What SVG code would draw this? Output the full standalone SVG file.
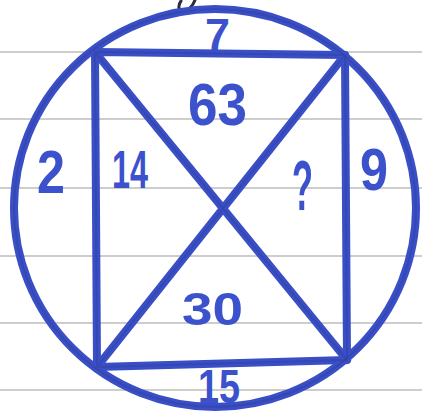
<svg xmlns="http://www.w3.org/2000/svg" width="422" height="414" viewBox="0 0 422 414">
<style>
.rule{stroke:#9c9c9c;stroke-width:1.2}
.pen{fill:none;stroke:#3a4fc6;stroke-linecap:round;stroke-linejoin:round}
.core{fill:none;stroke:#2f3f9e;stroke-linecap:round;stroke-linejoin:round;opacity:0.45}
.num{font-family:"Liberation Sans",Arial,sans-serif;font-weight:bold;fill:#3b52cc}
</style>
<rect width="422" height="414" fill="#ffffff"/>
<g id="paper">
<line class="rule" x1="0" y1="52" x2="422" y2="52"/>
<line class="rule" x1="0" y1="119" x2="422" y2="119"/>
<line class="rule" x1="0" y1="188" x2="422" y2="188"/>
<line class="rule" x1="0" y1="256" x2="422" y2="256"/>
<line class="rule" x1="0" y1="323" x2="422" y2="323"/>
<line class="rule" x1="0" y1="390" x2="422" y2="390"/>
<path d="M195,0 C193,6 188,11 182,11 C178,10 178,5 181,1" fill="none" stroke="#2b2b45" stroke-width="3" stroke-linecap="round"/>
</g>
<g id="connectors">
<ellipse class="pen" cx="215" cy="208" rx="201" ry="199" stroke-width="8"/>
<path class="pen" d="M95,52 L345,55 L347,360 L97,367 Z" stroke-width="8"/>
<path class="pen" d="M95,52 L347,360 M345,55 L97,367" stroke-width="8"/>
<ellipse class="core" cx="215" cy="208" rx="201" ry="199" stroke-width="2"/>
<path class="core" d="M95,52 L345,55 L347,360 L97,367 Z M95,52 L347,360 M345,55 L97,367" stroke-width="2"/>
</g>
<g id="label-7"><text class="num" x="205" y="50" font-size="44" textLength="25" lengthAdjust="spacingAndGlyphs">7</text></g>
<g id="label-63"><text class="num" x="188" y="125" font-size="60" textLength="59" lengthAdjust="spacingAndGlyphs">63</text></g>
<g id="label-2"><text class="num" x="37" y="193" font-size="62" textLength="28" lengthAdjust="spacingAndGlyphs">2</text></g>
<g id="label-14"><text class="num" x="112" y="188" font-size="54" textLength="36" lengthAdjust="spacingAndGlyphs">14</text></g>
<g id="label-q"><text class="num" x="292" y="210" font-size="70" textLength="21" lengthAdjust="spacingAndGlyphs">?</text></g>
<g id="label-9"><text class="num" x="360" y="190" font-size="60" textLength="28" lengthAdjust="spacingAndGlyphs">9</text></g>
<g id="label-30"><text class="num" x="182" y="325" font-size="46" textLength="61" lengthAdjust="spacingAndGlyphs">30</text></g>
<g id="label-15"><text class="num" x="198" y="403" font-size="48" textLength="42" lengthAdjust="spacingAndGlyphs">15</text></g>
</svg>
